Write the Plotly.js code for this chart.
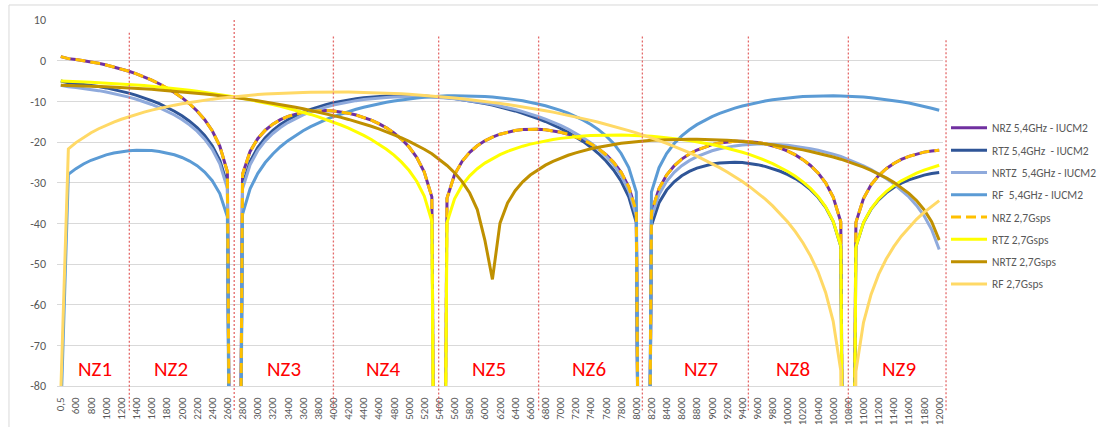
<!DOCTYPE html>
<html>
<head>
<meta charset="utf-8">
<script src="https://cdn.plot.ly/plotly-3.0.1.min.js"></script>
<style>
html,body{margin:0;padding:0;background:#ffffff;}
#chart{width:1098px;height:427px;}
</style>
</head>
<body>
<div id="chart"></div>
<script>
// ---------------- data ----------------
const categories = ["0,5",
 "500","600","700","800","900","1000","1100","1200","1300","1400",
 "1500","1600","1700","1800","1900","2000","2100","2200","2300","2400",
 "2500","2600","2700","2800","2900","3000","3100","3200","3300","3400",
 "3500","3600","3700","3800","3900","4000","4100","4200","4300","4400",
 "4500","4600","4700","4800","4900","5000","5100","5200","5300","5400",
 "5500","5600","5700","5800","5900","6000","6100","6200","6300","6400",
 "6500","6600","6700","6800","6900","7000","7100","7200","7300","7400",
 "7500","7600","7700","7800","7900","8000","8100","8200","8300","8400",
 "8500","8600","8700","8800","8900","9000","9100","9200","9300","9400",
 "9500","9600","9700","9800","9900","10000","10100","10200","10300","10400",
 "10500","10600","10700","10800","10900","11000","11100","11200","11300","11400",
 "11500","11600","11700","11800","11900","12000"];

const tickLabels = ["0,5","600","800","1000","1200","1400","1600","1800","2000","2200","2400",
 "2600","2800","3000","3200","3400","3600","3800","4000","4200","4400","4600","4800","5000",
 "5200","5400","5600","5800","6000","6200","6400","6600","6800","7000","7200","7400","7600",
 "7800","8000","8200","8400","8600","8800","9000","9200","9400","9600","9800","10000","10200",
 "10400","10600","10800","11000","11200","11400","11600","11800","12000"];

const yTickValues = [10, 0, -10, -20, -30, -40, -50, -60, -70, -80];
const yTickLabels = ["10", "0", "-10", "-20", "-30", "-40", "-50", "-60", "-70", "-80"];

const seriesNames = ["NRZ 5,4GHz - IUCM2", "RTZ 5,4GHz  - IUCM2", "NRTZ  5,4GHz - IUCM2", "RF  5,4GHz - IUCM2",
 "NRZ 2,7Gsps", "RTZ 2,7Gsps", "NRTZ 2,7Gsps", "RF 2,7Gsps"];

const nrz54 = [1.0, 0.5, 0.28, 0.02, -0.29, -0.65, -1.06, -1.52, -2.03, -2.61,
 -3.25, -3.97, -4.77, -5.67, -6.67, -7.81, -9.1, -10.6, -12.36, -14.51,
 -17.24, -21.02, -27.32, -300, -27.96, -22.31, -19.18, -17.1, -15.62, -14.52,
 -13.71, -13.11, -12.69, -12.42, -12.28, -12.27, -12.37, -12.59, -12.91, -13.36,
 -13.93, -14.63, -15.49, -16.52, -17.78, -19.32, -21.25, -23.79, -27.38, -33.5,
 -300, -33.83, -28.02, -24.75, -22.54, -20.93, -19.72, -18.79, -18.08, -17.55,
 -17.18, -16.95, -16.84, -16.85, -16.98, -17.23, -17.59, -18.08, -18.71, -19.5,
 -20.47, -21.65, -23.13, -25.0, -27.48, -31.01, -37.08, -300, -37.29, -31.44,
 -28.12, -25.86, -24.21, -22.94, -21.97, -21.22, -20.65, -20.24, -19.96, -19.82,
 -19.79, -19.89, -20.09, -20.42, -20.88, -21.48, -22.23, -23.17, -24.33, -25.77,
 -27.61, -30.06, -33.56, -39.61, -300, -39.77, -33.89, -30.54, -28.26, -26.58,
 -25.29, -24.29, -23.52, -22.93, -22.49, -22.2, -22.03];

const rtz54 = [-5.02, -5.43, -5.6, -5.82, -6.07, -6.37, -6.7, -7.09, -7.51, -7.99,
 -8.53, -9.14, -9.82, -10.59, -11.44, -12.43, -13.56, -14.89, -16.46, -18.42,
 -20.95, -24.51, -30.58, -300, -30.71, -24.79, -21.36, -18.97, -17.16, -15.71,
 -14.53, -13.53, -12.69, -11.97, -11.34, -10.81, -10.35, -9.96, -9.61, -9.34,
 -9.11, -8.91, -8.77, -8.66, -8.59, -8.56, -8.56, -8.62, -8.69, -8.8,
 -8.94, -9.12, -9.33, -9.59, -9.85, -10.17, -10.53, -10.92, -11.36, -11.83,
 -12.36, -12.93, -13.54, -14.22, -14.96, -15.77, -16.64, -17.63, -18.71, -19.91,
 -21.28, -22.84, -24.68, -26.87, -29.66, -33.49, -39.83, -300, -40.55, -34.93,
 -31.83, -29.77, -28.3, -27.23, -26.43, -25.84, -25.42, -25.16, -25.01, -24.99,
 -25.07, -25.26, -25.57, -26.0, -26.53, -27.2, -28.01, -29.0, -30.21, -31.71,
 -33.58, -36.04, -39.57, -45.63, -300, -45.79, -39.89, -36.52, -34.22, -32.5,
 -31.18, -30.13, -29.3, -28.65, -28.14, -27.77, -27.51];

const nrtz54 = [-6.04, -6.44, -6.62, -6.83, -7.07, -7.37, -7.7, -8.08, -8.49, -8.96,
 -9.5, -10.1, -10.77, -11.53, -12.38, -13.35, -14.47, -15.79, -17.35, -19.3,
 -21.82, -25.36, -31.41, -300, -31.52, -25.58, -22.14, -19.73, -17.9, -16.43,
 -15.23, -14.21, -13.35, -12.61, -11.96, -11.41, -10.92, -10.5, -10.13, -9.83,
 -9.57, -9.35, -9.17, -9.03, -8.94, -8.87, -8.84, -8.86, -8.9, -8.96,
 -9.07, -9.21, -9.38, -9.59, -9.81, -10.09, -10.4, -10.74, -11.13, -11.54,
 -12.02, -12.52, -13.07, -13.7, -14.37, -15.11, -15.92, -16.83, -17.83, -18.95,
 -20.24, -21.71, -23.45, -25.55, -28.24, -31.96, -38.19, -300, -38.66, -32.91,
 -29.66, -27.45, -25.82, -24.58, -23.58, -22.8, -22.16, -21.67, -21.26, -20.96,
 -20.73, -20.58, -20.5, -20.5, -20.54, -20.65, -20.81, -21.03, -21.3, -21.64,
 -22.02, -22.46, -22.97, -23.53, -24.28, -25.02, -25.84, -26.76, -27.8, -28.96,
 -30.27, -31.78, -33.52, -35.61, -38.17, -41.52, -46.42];

const rf54 = [-87.57, -27.96, -26.55, -25.41, -24.49, -23.76, -23.17, -22.71, -22.36, -22.13,
 -22.01, -22.0, -22.1, -22.32, -22.66, -23.15, -23.81, -24.69, -25.83, -27.38,
 -29.51, -32.68, -38.37, -300, -37.8, -31.53, -27.77, -25.05, -22.93, -21.16,
 -19.67, -18.37, -17.24, -16.23, -15.31, -14.51, -13.77, -13.1, -12.49, -11.94,
 -11.45, -10.99, -10.59, -10.22, -9.9, -9.61, -9.36, -9.16, -8.98, -8.83,
 -8.72, -8.65, -8.61, -8.61, -8.62, -8.69, -8.79, -8.92, -9.1, -9.31,
 -9.58, -9.88, -10.22, -10.64, -11.1, -11.63, -12.23, -12.93, -13.72, -14.63,
 -15.7, -16.95, -18.48, -20.35, -22.82, -26.31, -32.31, -300, -32.31, -26.32,
 -22.83, -20.37, -18.49, -16.99, -15.73, -14.67, -13.76, -12.98, -12.28, -11.68,
 -11.15, -10.68, -10.28, -9.93, -9.62, -9.37, -9.14, -8.97, -8.83, -8.74,
 -8.67, -8.63, -8.63, -8.66, -8.72, -8.82, -8.95, -9.11, -9.31, -9.53,
 -9.8, -10.1, -10.43, -10.82, -11.24, -11.71, -12.21];

const nrz27 = [1.0, 0.5, 0.28, 0.02, -0.29, -0.65, -1.06, -1.52, -2.03, -2.61,
 -3.25, -3.97, -4.77, -5.67, -6.67, -7.81, -9.1, -10.6, -12.36, -14.51,
 -17.24, -21.02, -27.32, -300, -27.96, -22.31, -19.18, -17.1, -15.62, -14.52,
 -13.71, -13.11, -12.69, -12.42, -12.28, -12.27, -12.37, -12.59, -12.91, -13.36,
 -13.93, -14.63, -15.49, -16.52, -17.78, -19.32, -21.25, -23.79, -27.38, -33.5,
 -300, -33.83, -28.02, -24.75, -22.54, -20.93, -19.72, -18.79, -18.08, -17.55,
 -17.18, -16.95, -16.84, -16.85, -16.98, -17.23, -17.59, -18.08, -18.71, -19.5,
 -20.47, -21.65, -23.13, -25.0, -27.48, -31.01, -37.08, -300, -37.29, -31.44,
 -28.12, -25.86, -24.21, -22.94, -21.97, -21.22, -20.65, -20.24, -19.96, -19.82,
 -19.79, -19.89, -20.09, -20.42, -20.88, -21.48, -22.23, -23.17, -24.33, -25.77,
 -27.61, -30.06, -33.56, -39.61, -300, -39.77, -33.89, -30.54, -28.26, -26.58,
 -25.29, -24.29, -23.52, -22.93, -22.49, -22.2, -22.03];

const rtz27 = [-5.0, -5.12, -5.18, -5.24, -5.32, -5.4, -5.5, -5.6, -5.72, -5.85,
 -5.98, -6.13, -6.29, -6.46, -6.65, -6.85, -7.06, -7.28, -7.52, -7.77,
 -8.03, -8.31, -8.61, -8.92, -9.25, -9.6, -9.97, -10.36, -10.77, -11.21,
 -11.67, -12.16, -12.67, -13.22, -13.81, -14.43, -15.1, -15.82, -16.6, -17.44,
 -18.36, -19.38, -20.51, -21.78, -23.24, -24.95, -27.02, -29.65, -33.32, -39.49,
 -300, -39.81, -33.96, -30.62, -28.31, -26.56, -25.18, -24.05, -23.1, -22.3,
 -21.62, -21.03, -20.52, -20.09, -19.71, -19.39, -19.11, -18.88, -18.69, -18.54,
 -18.42, -18.34, -18.28, -18.26, -18.27, -18.31, -18.37, -18.46, -18.59, -18.74,
 -18.91, -19.12, -19.36, -19.63, -19.93, -20.26, -20.63, -21.04, -21.49, -21.98,
 -22.52, -23.12, -23.78, -24.51, -25.32, -26.23, -27.25, -28.43, -29.79, -31.4,
 -33.38, -35.93, -39.5, -45.59, -300, -45.75, -39.83, -36.41, -34.02, -32.2,
 -30.75, -29.55, -28.54, -27.68, -26.93, -26.28, -25.72];

const nrtz27 = [-6.04, -6.14, -6.18, -6.23, -6.29, -6.36, -6.43, -6.51, -6.6, -6.7,
 -6.81, -6.93, -7.05, -7.19, -7.33, -7.49, -7.65, -7.82, -8.0, -8.19,
 -8.4, -8.61, -8.84, -9.07, -9.32, -9.58, -9.86, -10.15, -10.45, -10.76,
 -11.1, -11.45, -11.81, -12.2, -12.6, -13.03, -13.48, -13.95, -14.45, -14.98,
 -15.54, -16.14, -16.78, -17.46, -18.19, -18.98, -19.84, -20.76, -21.78, -22.91,
 -24.28, -25.78, -27.56, -29.73, -32.55, -36.61, -44.11, -53.79, -39.96, -35.0,
 -31.97, -29.8, -28.13, -26.8, -25.69, -24.75, -23.95, -23.26, -22.66, -22.13,
 -21.67, -21.27, -20.91, -20.6, -20.33, -20.1, -19.9, -19.73, -19.59, -19.49,
 -19.4, -19.34, -19.31, -19.3, -19.32, -19.35, -19.41, -19.49, -19.6, -19.72,
 -19.87, -20.04, -20.24, -20.46, -20.7, -20.97, -21.26, -21.59, -21.94, -22.32,
 -22.74, -23.2, -23.69, -24.23, -24.82, -25.47, -26.18, -26.96, -27.84, -28.81,
 -29.92, -31.19, -32.64, -34.42, -36.65, -39.62, -44.12];

const rf27 = [-81.65, -21.71, -20.15, -18.84, -17.72, -16.74, -15.87, -15.09, -14.4, -13.76,
 -13.19, -12.66, -12.17, -11.73, -11.32, -10.94, -10.6, -10.28, -9.98, -9.71,
 -9.46, -9.23, -9.02, -8.82, -8.65, -8.49, -8.35, -8.22, -8.11, -8.01,
 -7.93, -7.86, -7.8, -7.76, -7.72, -7.71, -7.7, -7.7, -7.72, -7.75,
 -7.79, -7.84, -7.9, -7.98, -8.07, -8.16, -8.27, -8.39, -8.52, -8.67,
 -8.82, -8.99, -9.17, -9.36, -9.56, -9.78, -10.0, -10.24, -10.5, -10.76,
 -11.04, -11.34, -11.65, -11.97, -12.31, -12.66, -13.03, -13.42, -13.82, -14.24,
 -14.68, -15.14, -15.62, -16.12, -16.65, -17.19, -17.77, -18.36, -18.99, -19.65,
 -20.34, -21.06, -21.82, -22.62, -23.47, -24.36, -25.3, -26.3, -27.37, -28.51,
 -29.73, -31.04, -32.46, -34.0, -35.7, -37.57, -39.66, -42.03, -44.76, -47.99,
 -51.92, -56.99, -64.1, -76.22, -300, -76.38, -64.42, -57.47, -52.57, -48.79,
 -45.73, -43.16, -40.95, -39.02, -37.31, -35.78, -34.4];

const zoneLabels = ["NZ1", "NZ2", "NZ3", "NZ4", "NZ5", "NZ6", "NZ7", "NZ8", "NZ9"];

// ---------------- styling ----------------
const FONT = "Calibri, Carlito, Lato, 'Liberation Sans', sans-serif";
const TXT = "#595959";

const seriesValues = [nrz54, rtz54, nrtz54, rf54, nrz27, rtz27, nrtz27, rf27];
const lineStyles = [
  {color: "#7030A0", width: 3},
  {color: "#2F5597", width: 3},
  {color: "#8FAADC", width: 3},
  {color: "#5B9BD5", width: 3},
  {color: "#FFC000", width: 3, dash: "10px,5px"},
  {color: "#FFFF00", width: 3},
  {color: "#BF9000", width: 3},
  {color: "#FFD966", width: 3}
];

const traces = seriesValues.map((vals, k) => ({
  type: "scatter",
  mode: "lines",
  x: categories,
  y: vals,
  name: seriesNames[k],
  legendgroup: "g" + k,
  line: lineStyles[k],
  hoverinfo: "skip"
}));

// zone separator positions (category index units) and label centres
const sepPos = [9.05, 22.9, 36.0, 49.9, 63.1, 76.8, 90.8, 104.0, 116.9];
const sepTop = [0.965, 1.0, 0.955, 0.955, 0.955, 0.955, 0.955, 0.955, 0.945];
const labelPos = [4.47, 14.5, 29.5, 42.5, 56.6, 69.7, 84.6, 96.7, 110.7];
const nCat = categories.length;

const shapes = [];
// outer chart frame (top + left edges)
shapes.push({type: "line", xref: "paper", yref: "paper", x0: -0.0542, x1: 1.18, y0: 1.041, y1: 1.041,
  line: {color: "#d9d9d9", width: 1}});
shapes.push({type: "line", xref: "paper", yref: "paper", x0: -0.0542, x1: -0.0542, y0: 1.041, y1: -0.12,
  line: {color: "#d9d9d9", width: 1}});
sepPos.forEach((p, k) => {
  const xp = (p + 0.5) / nCat;
  shapes.push({type: "line", xref: "paper", yref: "paper", x0: xp, x1: xp, y0: sepTop[k], y1: -0.066,
    line: {color: "#E46A6A", width: 1.3, dash: "2px,2px"}, layer: "above"});
});

const annotations = zoneLabels.map((t, k) => ({
  x: labelPos[k], y: -75.7, xref: "x", yref: "y", text: t, showarrow: false,
  font: {family: FONT, size: 21, color: "#FF0000"}, xanchor: "center", yanchor: "middle"
}));

const layout = {
  width: 1098, height: 427,
  margin: {l: 57, r: 155, t: 20, b: 41, pad: 0, autoexpand: false},
  paper_bgcolor: "#ffffff", plot_bgcolor: "#ffffff",
  font: {family: FONT, color: TXT, size: 11},
  showlegend: true,
  legend: {
    x: 1.0034, y: 0.745, xanchor: "left", yanchor: "top",
    traceorder: "grouped", tracegroupgap: 3.3,
    font: {family: FONT, size: 11.5, color: TXT},
    bgcolor: "rgba(0,0,0,0)", borderwidth: 0, itemwidth: 36
  },
  xaxis: {
    type: "category", categoryorder: "array", categoryarray: categories,
    range: [-0.5, nCat - 0.5], tickmode: "array", tickvals: tickLabels, ticktext: tickLabels,
    tickangle: -90, showgrid: false, zeroline: false, showline: true, linecolor: "#d9d9d9", linewidth: 1,
    ticks: "", ticklabelstandoff: 6, tickfont: {family: FONT, size: 11, color: TXT}, fixedrange: true,
    automargin: false
  },
  yaxis: {
    range: [-80, 10], tickmode: "array", tickvals: yTickValues, ticktext: yTickLabels,
    showgrid: true, gridcolor: "#d9d9d9", gridwidth: 1, zeroline: false, showline: false,
    ticks: "", ticklabelstandoff: 10, tickfont: {family: FONT, size: 12, color: TXT}, fixedrange: true,
    automargin: false
  },
  shapes: shapes,
  annotations: annotations
};

Plotly.newPlot("chart", traces, layout, {staticPlot: true, displayModeBar: false});
</script>
</body>
</html>
